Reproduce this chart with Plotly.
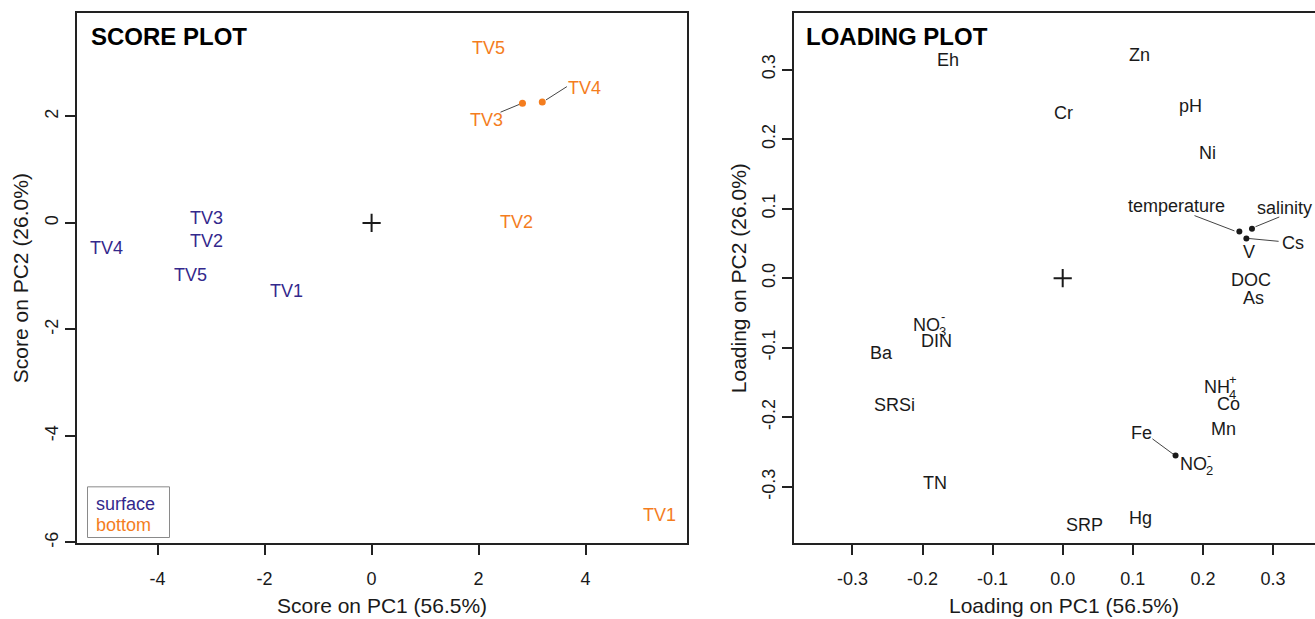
import plotly.graph_objects as go

# ---------------- data ----------------
# Score plot: sample labels (label positions on PC1 / PC2)
surface_names = ["TV1", "TV2", "TV3", "TV4", "TV5"]
surface_pc1 = [-1.60, -3.08, -3.08, -4.95, -3.39]
surface_pc2 = [-1.27, -0.33, 0.10, -0.47, -0.98]

bottom_names = ["TV1", "TV2", "TV3", "TV4", "TV5"]
bottom_pc1 = [5.39, 2.70, 2.15, 3.97, 2.18]
bottom_pc2 = [-5.48, 0.02, 1.94, 2.54, 3.29]

# bottom samples whose labels were displaced: actual points and leader lines
bottom_dot_names = ["TV3", "TV4"]
bottom_dot_pc1 = [2.82, 3.19]
bottom_dot_pc2 = [2.25, 2.27]
bottom_leader_from_pc1 = [2.41, 3.65]
bottom_leader_from_pc2 = [2.08, 2.56]
bottom_leader_to_pc1 = [2.77, 3.26]
bottom_leader_to_pc2 = [2.23, 2.31]

# Loading plot: variable labels
loading_names = ["Eh", "Zn", "Cr", "pH", "Ni", "temperature", "salinity", "Cs",
                 "V", "DOC", "As", "NO3-", "DIN", "Ba", "SRSi", "TN", "SRP",
                 "Hg", "NH4+", "Co", "Mn", "Fe", "NO2-"]
loading_pc1 = [-0.163, 0.110, 0.001, 0.182, 0.206, 0.162, 0.317, 0.329,
               0.266, 0.269, 0.272, -0.194, -0.180, -0.259, -0.240, -0.182, 0.031,
               0.111, 0.220, 0.236, 0.229, 0.113, 0.186]
loading_pc2 = [0.314, 0.321, 0.238, 0.248, 0.180, 0.104, 0.101, 0.050,
               0.037, -0.002, -0.028, -0.067, -0.090, -0.107, -0.183, -0.294, -0.355,
               -0.345, -0.157, -0.181, -0.217, -0.223, -0.267]

# chemical formula labels: base, subscript, superscript
chem_parts = {"NO3-": ("NO", "3", "-"), "NH4+": ("NH", "4", "+"), "NO2-": ("NO", "2", "-")}

loading_dot_names = ["temperature", "salinity", "Cs", "Fe"]
loading_dot_pc1 = [0.252, 0.270, 0.262, 0.161]
loading_dot_pc2 = [0.067, 0.071, 0.057, -0.255]
loading_leader_from_pc1 = [0.188, 0.309, 0.308, 0.128]
loading_leader_from_pc2 = [0.090, 0.088, 0.053, -0.231]
loading_leader_to_pc1 = [0.245, 0.275, 0.266, 0.159]
loading_leader_to_pc2 = [0.068, 0.074, 0.057, -0.254]

score_xticks = [-4, -2, 0, 2, 4]
score_xtext = ["-4", "-2", "0", "2", "4"]
score_yticks = [-6, -4, -2, 0, 2]
score_ytext = ["-6", "-4", "-2", "0", "2"]
load_xticks = [-0.3, -0.2, -0.1, 0.0, 0.1, 0.2, 0.3]
load_xtext = ["-0.3", "-0.2", "-0.1", "0.0", "0.1", "0.2", "0.3"]
load_yticks = [-0.3, -0.2, -0.1, 0.0, 0.1, 0.2, 0.3]
load_ytext = ["-0.3", "-0.2", "-0.1", "0.0", "0.1", "0.2", "0.3"]

score_title = "SCORE PLOT"
loading_title = "LOADING PLOT"
score_xlabel = "Score on PC1 (56.5%)"
score_ylabel = "Score on PC2 (26.0%)"
load_xlabel = "Loading on PC1 (56.5%)"
load_ylabel = "Loading on PC2 (26.0%)"
legend_names = ["surface", "bottom"]

# ---------------- style ----------------
W, H = 1315, 619
FONT = "Liberation Sans, Arial, Helvetica, sans-serif"
BLUE = "#33288c"
ORANGE = "#f47d1e"
INK = "#1a1a1a"
FRAME = "#222222"
LABEL_DY = 0


def px(x):
    return x / W


def py(y):
    return 1 - y / H


fig = go.Figure()
annotations = []


def add_labels(names, xs, ys, xref, yref, color):
    for n, xv, yv in zip(names, xs, ys):
        annotations.append(dict(x=xv, y=yv, xref=xref, yref=yref, text=n, showarrow=False,
                                xanchor="center", yanchor="middle", yshift=LABEL_DY,
                                font=dict(size=18, family=FONT, color=color)))


# ---- score plot ----
for xs0, ys0, xs1, ys1 in zip(bottom_leader_from_pc1, bottom_leader_from_pc2,
                              bottom_leader_to_pc1, bottom_leader_to_pc2):
    fig.add_trace(go.Scatter(x=[xs0, xs1], y=[ys0, ys1], mode="lines",
                             line=dict(color="#444444", width=1),
                             xaxis="x", yaxis="y", hoverinfo="skip", showlegend=False))
fig.add_trace(go.Scatter(x=bottom_dot_pc1, y=bottom_dot_pc2, mode="markers",
                         marker=dict(color=ORANGE, size=7), xaxis="x", yaxis="y",
                         showlegend=False))
fig.add_trace(go.Scatter(x=[0], y=[0], mode="markers",
                         marker=dict(symbol="cross-thin", size=13,
                                     line=dict(color=INK, width=2)),
                         xaxis="x", yaxis="y", showlegend=False))
add_labels(surface_names, surface_pc1, surface_pc2, "x", "y", BLUE)
add_labels(bottom_names, bottom_pc1, bottom_pc2, "x", "y", ORANGE)

# ---- loading plot ----
for xs0, ys0, xs1, ys1 in zip(loading_leader_from_pc1, loading_leader_from_pc2,
                              loading_leader_to_pc1, loading_leader_to_pc2):
    fig.add_trace(go.Scatter(x=[xs0, xs1], y=[ys0, ys1], mode="lines",
                             line=dict(color="#444444", width=1),
                             xaxis="x2", yaxis="y2", hoverinfo="skip", showlegend=False))
fig.add_trace(go.Scatter(x=loading_dot_pc1, y=loading_dot_pc2, mode="markers",
                         marker=dict(color=INK, size=6), xaxis="x2", yaxis="y2",
                         showlegend=False))
fig.add_trace(go.Scatter(x=[0], y=[0], mode="markers",
                         marker=dict(symbol="cross-thin", size=13,
                                     line=dict(color=INK, width=2)),
                         xaxis="x2", yaxis="y2", showlegend=False))
display = [chem_parts[n][0] if n in chem_parts else n for n in loading_names]
add_labels(display, loading_pc1, loading_pc2, "x2", "y2", INK)

for n, xv, yv in zip(loading_names, loading_pc1, loading_pc2):
    if n in chem_parts:
        base, sub, sup = chem_parts[n]
        annotations.append(dict(x=xv, y=yv, xref="x2", yref="y2", text=sub,
                                showarrow=False, xshift=16, yshift=-7 + LABEL_DY,
                                font=dict(size=13, family=FONT, color=INK)))
        annotations.append(dict(x=xv, y=yv, xref="x2", yref="y2", text=sup,
                                showarrow=False, xshift=16, yshift=8 + LABEL_DY,
                                font=dict(size=13, family=FONT, color=INK)))

# titles
annotations.append(dict(x=px(89), y=py(37), xref="paper", yref="paper", text="<b>%s</b>" % score_title,
                        showarrow=False, xanchor="left", yanchor="middle",
                        font=dict(size=24, family=FONT, color="#000000")))
annotations.append(dict(x=px(804), y=py(37), xref="paper", yref="paper", text="<b>%s</b>" % loading_title,
                        showarrow=False, xanchor="left", yanchor="middle",
                        font=dict(size=24, family=FONT, color="#000000")))
# axis titles
for txt, x, y, ang in [(score_xlabel, 382, 609, 0), (load_xlabel, 1064, 609, 0),
                       (score_ylabel, 20, 280, -90), (load_ylabel, 738, 280, -90)]:
    annotations.append(dict(x=px(x), y=py(y), xref="paper", yref="paper", text=txt,
                            showarrow=False, xanchor="center", yanchor="middle", textangle=ang,
                            font=dict(size=21, family=FONT, color=INK)))
# legend
for name, col, y in zip(legend_names, [BLUE, ORANGE], [507, 528]):
    annotations.append(dict(x=px(94), y=py(y), xref="paper", yref="paper", text=name,
                            showarrow=False, xanchor="left", yanchor="middle",
                            font=dict(size=18, family=FONT, color=col)))

shapes = [dict(type="rect", xref="paper", yref="paper", x0=px(87.5), x1=px(169.5),
               y0=py(541), y1=py(490), line=dict(color="#8a8a8a", width=1))]

ydom = [py(547), py(13)]
axis_common = dict(showgrid=False, zeroline=False, showline=True, linecolor=FRAME, linewidth=2,
                   ticks="outside", ticklen=10, tickwidth=2, tickcolor=FRAME,
                   tickfont=dict(size=18, family=FONT, color=INK), tickmode="array")

fig.update_layout(
    width=W, height=H, margin=dict(l=0, r=0, t=0, b=0),
    paper_bgcolor="white", plot_bgcolor="white", showlegend=False,
    xaxis=dict(domain=[px(77), px(687)], range=[(77 - 371.6) / 53.5, (687 - 371.6) / 53.5],
               tickvals=score_xticks, ticktext=score_xtext, mirror=True, anchor="y",
               ticklabelstandoff=8, **axis_common),
    yaxis=dict(domain=ydom, range=[(224.4 - 547) / 53.6, (224.4 - 13) / 53.6],
               tickvals=score_yticks, ticktext=score_ytext, mirror=True, tickangle=-90,
               anchor="x", **axis_common),
    xaxis2=dict(domain=[px(794), 1.0], range=[(794 - 1062.7) / 701, (1315 - 1062.7) / 701],
                tickvals=load_xticks, ticktext=load_xtext, mirror=True, anchor="y2",
                ticklabelstandoff=8, **axis_common),
    yaxis2=dict(domain=ydom, range=[(280 - 547) / 700, (280 - 13) / 700],
                tickvals=load_yticks, ticktext=load_ytext, mirror=False, tickangle=-90,
                anchor="x2", **axis_common),
    annotations=annotations, shapes=shapes,
)

fig.write_html("out.html", config={"displayModeBar": False},
               post_script="document.body.style.margin='0';document.body.style.overflow='hidden';")
